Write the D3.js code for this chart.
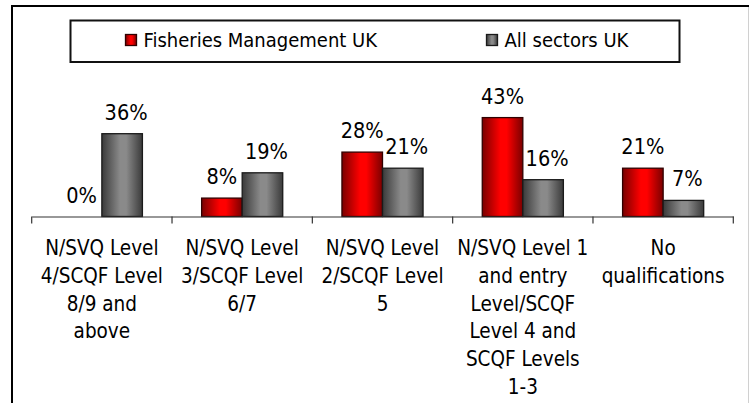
<!DOCTYPE html>
<html><head><meta charset="utf-8">
<script src="https://cdn.jsdelivr.net/npm/d3@7"></script>
<style>html,body{margin:0;padding:0;background:#fff;overflow:hidden}svg{display:block}</style>
</head><body>
<script>
const categories = [
  ["N/SVQ Level","4/SCQF Level","8/9 and","above"],
  ["N/SVQ Level","3/SCQF Level","6/7"],
  ["N/SVQ Level","2/SCQF Level","5"],
  ["N/SVQ Level 1","and entry","Level/SCQF","Level 4 and","SCQF Levels","1-3"],
  ["No","qualifications"]
];
const seriesNames = ["Fisheries Management UK","All sectors UK"];
const fisheries = [0, 8, 28, 43, 21];
const allSectors = [36, 19, 21, 16, 7];

const W = 749, H = 403;
const font = "'DejaVu Sans Condensed','DejaVu Sans',sans-serif";
const svg = d3.select("body").append("svg").attr("width", W).attr("height", H);
const defs = svg.append("defs");
function grad(id, edge, mid) {
  const g = defs.append("linearGradient").attr("id", id).attr("x1","0%").attr("x2","100%").attr("y1","0%").attr("y2","0%");
  g.append("stop").attr("offset","0%").attr("stop-color", edge);
  g.append("stop").attr("offset","45%").attr("stop-color", mid);
  g.append("stop").attr("offset","60%").attr("stop-color", mid);
  g.append("stop").attr("offset","100%").attr("stop-color", edge);
}
grad("gRed", "#7a0000", "#ff0000");
grad("gGray", "#3a3a3a", "#8a8a8a");
const fills = ["url(#gRed)", "url(#gGray)"];
const strokes = ["#300000", "#1a1a1a"];

// outer frame
svg.append("line").attr("x1", 11.5).attr("x2", W).attr("y1", 6).attr("y2", 6).attr("stroke", "#000").attr("stroke-width", 2);
svg.append("line").attr("x1", 12).attr("x2", 12).attr("y1", 5).attr("y2", H).attr("stroke", "#000").attr("stroke-width", 2);
svg.append("line").attr("x1", 748.5).attr("x2", 748.5).attr("y1", 7).attr("y2", H).attr("stroke", "#d0d0d0").attr("stroke-width", 1);

// scales
const x0 = d3.scaleBand().domain(d3.range(categories.length)).range([31.7, 733.3]).padding(0);
const barW = x0.bandwidth() * 0.289;
const x1 = d3.scaleBand().domain(seriesNames).range([x0.bandwidth()/2 - barW, x0.bandwidth()/2 + barW]).padding(0);
const y = d3.scaleLinear().domain([0, 50]).range([216.5, 216.5 - 115]);

// bars
const data = categories.map((c, i) => ({i, vals: [fisheries[i], allSectors[i]]}));
const groups = svg.append("g").selectAll("g").data(data).join("g")
  .attr("transform", d => `translate(${x0(d.i)},0)`);
groups.selectAll("rect").data(d => d.vals.map((v, s) => ({v, s})).filter(e => e.v > 0)).join("rect")
  .attr("x", e => x1(seriesNames[e.s]))
  .attr("y", e => y(e.v))
  .attr("width", x1.bandwidth())
  .attr("height", e => y(0) - y(e.v))
  .attr("fill", e => fills[e.s])
  .attr("stroke", e => strokes[e.s])
  .attr("stroke-width", 1.3);
groups.selectAll("text.val").data(d => d.vals.map((v, s) => ({v, s}))).join("text")
  .attr("class", "val")
  .attr("x", e => x1(seriesNames[e.s]) + x1.bandwidth()/2 + (e.s === 1 ? 4 : 0))
  .attr("y", e => y(e.v) - 14)
  .attr("text-anchor", "middle")
  .attr("font-family", font).attr("font-size", 21.5).attr("fill", "#000")
  .text(e => e.v + "%");

// axis
const axis = d3.axisBottom(x0).tickSize(0).tickFormat("");
const ax = svg.append("g").attr("transform", `translate(0,${y(0)})`).call(axis);
ax.select(".domain").attr("stroke", "#333").attr("stroke-width", 1.2);
const tickPos = x0.domain().map(d => x0(d)).concat([x0.range()[1]]);
svg.append("g").selectAll("line").data(tickPos).join("line")
  .attr("x1", d => d).attr("x2", d => d)
  .attr("y1", y(0)).attr("y2", y(0) + 7)
  .attr("stroke", "#333").attr("stroke-width", 1.2);

// category labels
const lab = svg.append("g").selectAll("text").data(categories).join("text")
  .attr("text-anchor", "middle")
  .attr("font-family", font).attr("font-size", 20.5).attr("fill", "#000");
lab.each(function(lines, i) {
  d3.select(this).selectAll("tspan").data(lines).join("tspan")
    .attr("x", x0(i) + x0.bandwidth()/2)
    .attr("y", (l, k) => 255 + k * 27.8)
    .text(l => l);
});

// legend
const leg = svg.append("g");
leg.append("rect").attr("x", 70.5).attr("y", 20.5).attr("width", 609).attr("height", 41.5)
  .attr("fill", "#fff").attr("stroke", "#111").attr("stroke-width", 2);
const legX = [125.5, 486.5];
seriesNames.forEach((s, k) => {
  leg.append("rect").attr("x", legX[k]).attr("y", 34.5).attr("width", 11).attr("height", 11)
    .attr("fill", fills[k]).attr("stroke", strokes[k]).attr("stroke-width", 1.3);
  leg.append("text").attr("x", legX[k] + 18).attr("y", 47)
    .attr("font-family", font).attr("font-size", 20).attr("fill", "#000").text(s);
});
</script>
</body></html>
